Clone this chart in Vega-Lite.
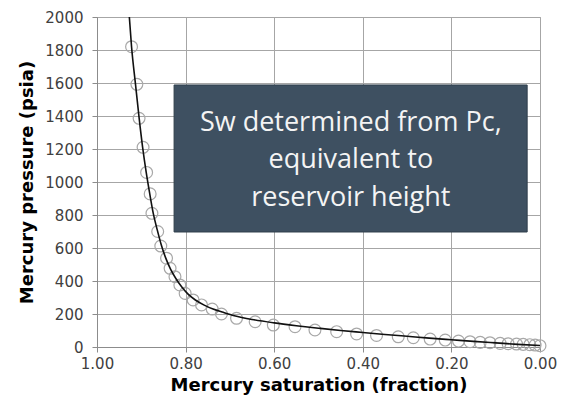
{
  "$schema": "https://vega.github.io/schema/vega-lite/v6.json",
  "width": 443,
  "height": 330,
  "autosize": "none",
  "padding": {"left": 97, "top": 17, "right": 21, "bottom": 59},
  "background": "white",
  "config": {
    "view": {"stroke": "#a6a6a6", "strokeWidth": 1},
    "axis": {
      "labelFont": "DejaVu Sans",
      "labelFontSize": 15,
      "labelColor": "#404040",
      "labelFlush": false,
      "labelOverlap": false,
      "titleFont": "DejaVu Sans",
      "titleFontSize": 18,
      "titleFontWeight": "bold",
      "titleColor": "#000000",
      "gridColor": "#a6a6a6",
      "gridWidth": 1,
      "gridOpacity": 1,
      "domainColor": "#8c8c8c",
      "tickColor": "#8c8c8c",
      "tickSize": 5
    }
  },
  "datasets": {
    "points": [
      {"sat": 0.922, "p": 1820}, {"sat": 0.910, "p": 1592}, {"sat": 0.905, "p": 1386},
      {"sat": 0.896, "p": 1210}, {"sat": 0.888, "p": 1058}, {"sat": 0.880, "p": 928},
      {"sat": 0.876, "p": 810}, {"sat": 0.863, "p": 700}, {"sat": 0.856, "p": 612},
      {"sat": 0.843, "p": 538}, {"sat": 0.835, "p": 477}, {"sat": 0.824, "p": 426},
      {"sat": 0.813, "p": 376}, {"sat": 0.801, "p": 325}, {"sat": 0.783, "p": 285},
      {"sat": 0.764, "p": 255}, {"sat": 0.740, "p": 230}, {"sat": 0.719, "p": 200},
      {"sat": 0.685, "p": 174}, {"sat": 0.643, "p": 153}, {"sat": 0.602, "p": 133},
      {"sat": 0.553, "p": 123}, {"sat": 0.508, "p": 103}, {"sat": 0.459, "p": 93},
      {"sat": 0.414, "p": 79}, {"sat": 0.369, "p": 70}, {"sat": 0.320, "p": 62},
      {"sat": 0.286, "p": 56}, {"sat": 0.248, "p": 48}, {"sat": 0.214, "p": 42},
      {"sat": 0.184, "p": 36}, {"sat": 0.158, "p": 32}, {"sat": 0.135, "p": 28},
      {"sat": 0.113, "p": 26}, {"sat": 0.090, "p": 22}, {"sat": 0.072, "p": 20},
      {"sat": 0.053, "p": 18}, {"sat": 0.038, "p": 16}, {"sat": 0.023, "p": 14},
      {"sat": 0.011, "p": 12}, {"sat": 0.000, "p": 8}
    ],
    "curve": [
      {"sat": 0.927, "p": 2000}, {"sat": 0.922, "p": 1820}, {"sat": 0.913, "p": 1590},
      {"sat": 0.905, "p": 1390}, {"sat": 0.897, "p": 1210}, {"sat": 0.889, "p": 1060},
      {"sat": 0.881, "p": 930}, {"sat": 0.873, "p": 810}, {"sat": 0.864, "p": 710},
      {"sat": 0.855, "p": 620}, {"sat": 0.845, "p": 540}, {"sat": 0.834, "p": 472},
      {"sat": 0.822, "p": 415}, {"sat": 0.809, "p": 365}, {"sat": 0.795, "p": 322},
      {"sat": 0.778, "p": 285}, {"sat": 0.758, "p": 254}, {"sat": 0.738, "p": 230},
      {"sat": 0.715, "p": 210}, {"sat": 0.690, "p": 190}, {"sat": 0.650, "p": 167},
      {"sat": 0.600, "p": 146}, {"sat": 0.550, "p": 129}, {"sat": 0.500, "p": 114},
      {"sat": 0.450, "p": 100}, {"sat": 0.400, "p": 88}, {"sat": 0.350, "p": 76},
      {"sat": 0.300, "p": 65}, {"sat": 0.250, "p": 54}, {"sat": 0.200, "p": 44},
      {"sat": 0.150, "p": 34}, {"sat": 0.100, "p": 25}, {"sat": 0.050, "p": 16},
      {"sat": 0.000, "p": 9}
    ],
    "box": [
      {"sat": 0.826, "sat2": 0.029, "p": 1588, "p2": 697}
    ],
    "label": [
      {"sat": 0.427, "p": 1358, "txt": ["Sw determined from Pc,", "equivalent to", "reservoir height"]}
    ]
  },
  "encoding": {
    "x": {
      "field": "sat", "type": "quantitative",
      "scale": {"domain": [0, 1], "reverse": true, "nice": false},
      "axis": {"values": [0, 0.2, 0.4, 0.6, 0.8, 1.0], "tickCount": 20, "format": ".2f", "title": "Mercury saturation (fraction)", "labelPadding": 4, "titlePadding": 5}
    },
    "y": {
      "field": "p", "type": "quantitative",
      "scale": {"domain": [0, 2000], "nice": false},
      "axis": {"values": [0, 200, 400, 600, 800, 1000, 1200, 1400, 1600, 1800, 2000], "tickCount": 20, "format": "d", "title": "Mercury pressure (psia)", "labelPadding": 9, "titlePadding": 8}
    }
  },
  "layer": [
    {
      "data": {"name": "points"},
      "mark": {"type": "point", "shape": "circle", "filled": false, "size": 140, "stroke": "#a8a8a8", "strokeWidth": 1.2, "opacity": 1}
    },
    {
      "data": {"name": "curve"},
      "mark": {"type": "line", "color": "#111111", "strokeWidth": 1.6, "interpolate": "monotone", "clip": true}
    },
    {
      "data": {"name": "box"},
      "mark": {"type": "rect", "fill": "#3e5061", "stroke": "#2f3e4b", "strokeWidth": 1},
      "encoding": {
        "x2": {"field": "sat2"},
        "y2": {"field": "p2"}
      }
    },
    {
      "data": {"name": "label"},
      "mark": {"type": "text", "font": "Open Sans", "fontSize": 27, "color": "#f4f4f4", "align": "center", "baseline": "middle", "lineHeight": 37.5},
      "encoding": {
        "text": {"field": "txt"}
      }
    }
  ]
}
